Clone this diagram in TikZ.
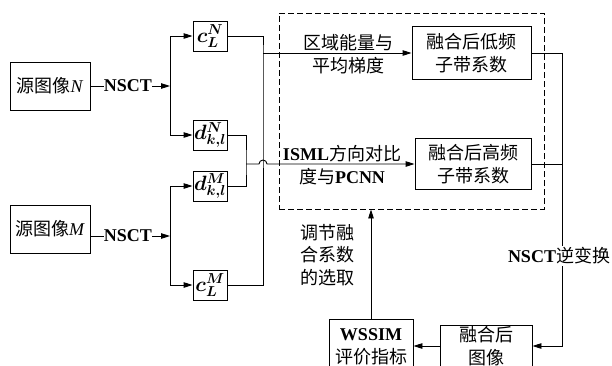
\documentclass[tikz,border=0pt]{standalone}
\usepackage{fontspec}
\setmainfont{Liberation Serif}
\newfontfamily\cjk{Noto Sans CJK SC}
\usepackage{bm}
\usetikzlibrary{arrows.meta}
\newcommand\zh[1]{{\cjk\mdseries #1}}
\begin{document}
\begin{tikzpicture}[x=1pt,y=-1pt,line width=0.9pt,
  every node/.style={font=\fontsize{18}{22.5}\selectfont, inner sep=0pt, align=center},
  box/.style={draw},
  coef/.style={box, minimum width=34pt, minimum height=30pt, font=\fontsize{20}{24}\selectfont},
  arr/.style={-{Triangle[length=9pt,width=5.5pt]}}]
\useasboundingbox (0,0) rectangle (612,365);
% sources
\node[box, minimum width=80pt, minimum height=48pt] (srcN) at (50,86) {\zh{源图像}\textit{N}};
\node[box, minimum width=80pt, minimum height=48pt] (srcM) at (50,229) {\zh{源图像}\textit{M}};
\node (nsctN) at (128,86) {\bfseries NSCT};
\node (nsctM) at (128,236) {\bfseries NSCT};
\coordinate (jN) at (170,86);
\coordinate (jM) at (170,236);
\draw (srcN.east) -- (nsctN.west);
\draw (srcM.east |- nsctM) -- (nsctM.west);
\draw[arr] (nsctN.east) -- (jN);
\draw[arr] (nsctM.east) -- (jM);
% coefficients
\node[coef] (cLN) at (210,36) {$\bm{c_L^N}$};
\node[coef] (dN) at (210,135) {$\bm{d_{k,l}^N}$};
\node[coef] (dM) at (210,186) {$\bm{d_{k,l}^M}$};
\node[coef] (cLM) at (210,285) {$\bm{c_L^M}$};
\draw[arr] (jN) |- (cLN.west);
\draw[arr] (jN) |- (dN.west);
\draw[arr] (jM) |- (dM.west);
\draw[arr] (jM) |- (cLM.west);
% dashed region
\node[draw, dash pattern=on 6pt off 3pt, minimum width=265pt, minimum height=196pt] (dbox) at (411.5,111) {};
\node[box, minimum width=119pt, minimum height=53pt] (lf) at (471.5,53) {\zh{融合后低频}\\\zh{子带系数}};
\node[box, minimum width=116pt, minimum height=51pt] (hf) at (473,164) {\zh{融合后高频}\\\zh{子带系数}};
\node (labL) at (348,54) {\zh{区域能量与}\\\zh{平均梯度}};
\node (labH) at (342,165) {{\bfseries ISML}\zh{方向对比}\\\zh{度与}{\bfseries PCNN}};
% merges
\coordinate (mL) at (263,53);
\coordinate (mH) at (246,164);
\draw (cLN.east) -| (mL) |- (cLM.east);
\draw (dN.east) -| (mH) |- (dM.east);
\draw[arr] (mL) -- (lf.west);
\draw[arr] (mH) -- (259,164) arc[start angle=180, end angle=0, radius=4pt] -- (hf.west);
% output
\node[box, minimum width=92pt, minimum height=42pt] (fused) at (486,346) {\zh{融合后}\\\zh{图像}};
\node[box, minimum width=84pt, minimum height=56pt] (wssim) at (371,347) {\bfseries WSSIM\\\zh{评价指标}};
\coordinate (mO) at (562,164);
\draw (lf.east) -| (mO);
\draw[arr] (hf.east) -- (mO) |- (fused.east);
\node[fill=white, inner sep=2pt] (inv) at (559,256) {\bfseries NSCT\zh{逆变换}};
\draw[arr] (fused.west) -- (wssim.east |- fused.west);
\draw[arr] (wssim.north) -- (wssim.north |- dbox.south);
\node (adj) at (327,255) {\zh{调节融}\\\zh{合系数}\\\zh{的选取}};
\end{tikzpicture}
\end{document}
